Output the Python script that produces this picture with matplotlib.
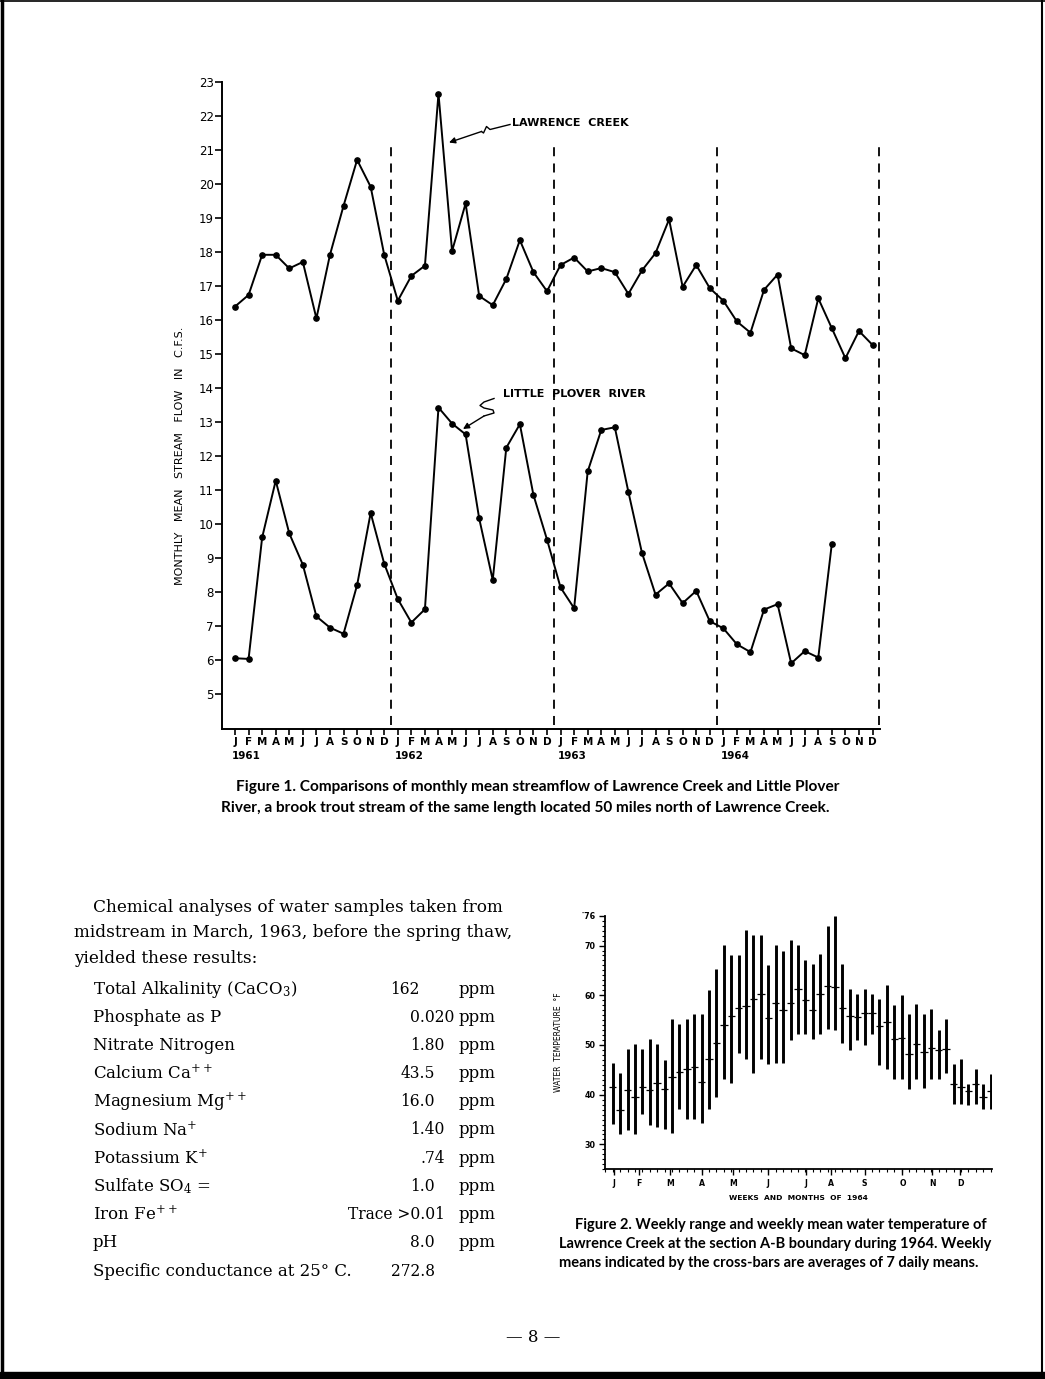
import matplotlib
matplotlib.use('Agg')
import matplotlib.pyplot as plt
import numpy as np
from matplotlib.patches import Rectangle, FancyArrowPatch
from matplotlib.lines import Line2D

# ---------------- data ----------------
years = ['1961', '1962', '1963', '1964']
month_letters = ['J', 'F', 'M', 'A', 'M', 'J', 'J', 'A', 'S', 'O', 'N', 'D']

lawrence_cfs = [16.40, 16.74, 17.92, 17.92, 17.52, 17.71, 16.05, 17.92, 19.36, 20.71, 19.92, 17.92,
                16.57, 17.30, 17.60, 22.66, 18.03, 19.43, 16.71, 16.44, 17.21, 18.35, 17.41, 16.85,
                17.62, 17.84, 17.43, 17.53, 17.41, 16.77, 17.46, 17.97, 18.96, 16.98, 17.62, 16.94,
                16.57, 15.96, 15.63, 16.89, 17.34, 15.17, 14.97, 16.64, 15.76, 14.88, 15.68, 15.27]
plover_cfs = [6.06, 6.04, 9.61, 11.28, 9.73, 8.81, 7.29, 6.96, 6.78, 8.21, 10.33, 8.84,
              7.80, 7.11, 7.50, 13.43, 12.96, 12.64, 10.17, 8.36, 12.25, 12.94, 10.86, 9.55,
              8.14, 7.53, 11.55, 12.77, 12.85, 10.95, 9.16, 7.93, 8.26, 7.68, 8.04, 7.15,
              6.94, 6.47, 6.24, 7.49, 7.65, 5.91, 6.27, 6.08, 9.43]
flow_yticks = list(range(5, 24))

week_high = [46.4, 44.3, 49.2, 50.2, 49.2, 51.3, 50.1, 47.0, 55.2, 54.2, 55.2, 56.2, 56.3,
             61.1, 65.2, 70.2, 68.1, 68.1, 73.1, 72.1, 72.2, 66.0, 70.1, 69.0, 71.1, 70.1,
             67.1, 66.2, 68.2, 74.0, 76.0, 66.2, 61.2, 60.2, 61.2, 60.2, 59.2, 62.1, 58.0,
             60.0, 56.2, 58.2, 56.2, 57.2, 53.1, 55.2, 46.2, 47.2, 42.1, 45.2, 42.2, 44.2]
week_low = [34.2, 32.0, 33.0, 32.0, 36.2, 33.9, 33.6, 33.2, 32.2, 37.2, 35.2, 35.1, 34.4,
            37.1, 39.5, 43.1, 42.3, 48.3, 47.1, 44.3, 47.2, 46.2, 46.4, 46.4, 51.1, 52.3,
            52.3, 51.3, 52.2, 53.2, 53.1, 50.3, 49.0, 51.1, 50.0, 52.2, 46.0, 45.2, 43.2,
            43.1, 41.1, 43.1, 41.4, 43.1, 43.1, 44.4, 38.2, 38.2, 38.0, 38.2, 37.1, 37.1]
week_mean = [41.5, 37.0, 40.9, 39.6, 41.6, 40.9, 42.4, 41.1, 43.6, 44.6, 45.2, 45.6, 42.6,
             47.2, 50.3, 54.1, 55.8, 57.5, 57.8, 59.2, 60.2, 55.5, 58.5, 57.0, 58.5, 61.2,
             59.0, 57.0, 60.2, 61.9, 61.7, 57.5, 55.8, 55.7, 56.4, 56.4, 53.9, 54.7, 51.2,
             51.5, 48.2, 50.1, 48.6, 49.3, 49.0, 49.2, 42.1, 41.6, 40.8, 42.2, 39.6, 40.8]
month_tick_weeks = [0.2, 3.5, 7.8, 12.1, 16.3, 20.9, 26.1, 29.5, 34.0, 39.1, 43.1, 46.9]
temp_yticks = [30, 40, 50, 60, 70, 76]
temp_ylabels = ['30', '40', '50', '60', '70', '\u02d976']

chem_names = ['Total Alkalinity (CaCO$_3$)', 'Phosphate as P', 'Nitrate Nitrogen',
              'Calcium Ca$^{++}$', 'Magnesium Mg$^{++}$', 'Sodium Na$^{+}$',
              'Potassium K$^{+}$', 'Sulfate SO$_4$ =', 'Iron Fe$^{++}$', 'pH',
              'Specific conductance at 25\u00b0 C.']
chem_values = ['162', '0.020', '1.80', '43.5', '16.0', '1.40', '.74', '1.0',
               'Trace >0.01', '8.0', '272.8']
chem_units = ['ppm'] * 10 + ['']

# ---------------- figure ----------------
W, H = 1045, 1379
plt.rcParams['mathtext.fontset'] = 'dejavuserif'
fig = plt.figure(figsize=(W / 100, H / 100), dpi=100)
fig.patch.set_facecolor('white')
renderer = fig.canvas.get_renderer()


def fx(x):
    return x / W


def fy(y):
    return 1 - y / H


def P(x, y):
    return (fx(x), fy(y))


LET = 'DejaVu Sans'
CAP = 'Lato'
SER = 'DejaVu Serif'

# ---------------- Figure 1 ----------------
ax1 = fig.add_axes([fx(222), fy(729), (880 - 222) / W, (729 - 82) / H])
months = np.arange(len(lawrence_cfs))
ax1.plot(months, lawrence_cfs, color='k', lw=1.4, marker='o', ms=3.8)
ax1.plot(np.arange(len(plover_cfs)), plover_cfs, color='k', lw=1.4, marker='o', ms=3.8)
for k in range(len(years)):
    ax1.vlines(12 * k + 11.5, 4.1, 21.3, colors='k', lw=1.3, linestyles=(0, (5, 4)))
ax1.set_xlim(-0.96, 47.55)
ax1.set_ylim(3.98, 23)
for s in ['top', 'right']:
    ax1.spines[s].set_visible(False)
for s in ['left', 'bottom']:
    ax1.spines[s].set_linewidth(1.4)
ax1.set_yticks(flow_yticks)
ax1.set_yticklabels([str(v) for v in flow_yticks], fontsize=8.5, family=LET)
ax1.set_xticks(months)
ax1.set_xticklabels(month_letters * len(years), fontsize=7.5, family=LET, fontweight='bold')
ax1.tick_params(axis='y', direction='out', length=5, width=1.2, pad=1)
ax1.tick_params(axis='x', direction='out', length=4, width=1.2, pad=2)
for k, yr in enumerate(years):
    ax1.text(12 * k - 0.2, -0.034, yr, transform=ax1.get_xaxis_transform(),
             fontsize=7.5, family=LET, fontweight='bold', ha='left', va='top')
ax1.set_ylabel('MONTHLY   MEAN   STREAM   FLOW   IN   C.F.S.', fontsize=8,
               family=LET)
ax1.yaxis.set_label_coords(-0.056, 0.422)

ax1.text(20.45, 21.8, 'LAWRENCE  CREEK', fontsize=8, family=LET, fontweight='bold',
         va='center', ha='left')
ax1.text(19.75, 13.83, 'LITTLE  PLOVER  RIVER', fontsize=8, family=LET, fontweight='bold',
         va='center', ha='left')

# hand-drawn squiggle leaders
sq1 = [(510, 124.5), (490, 129.5), (486.5, 126.5), (483.5, 133), (481.5, 131.5)]
fig.add_artist(Line2D([fx(a) for a, b in sq1], [fy(b) for a, b in sq1], color='k', lw=1.0))
fig.add_artist(FancyArrowPatch(P(481.5, 131.5), P(449, 142.5), transform=fig.transFigure,
                               arrowstyle='-|>', mutation_scale=9, color='k', lw=1.0,
                               shrinkA=0, shrinkB=0))
sq2 = [(494, 398.5), (484, 402), (480, 405.5), (484, 408), (493, 410), (494, 413), (484, 416)]
fig.add_artist(Line2D([fx(a) for a, b in sq2], [fy(b) for a, b in sq2], color='k', lw=1.0))
fig.add_artist(FancyArrowPatch(P(484, 416), P(463, 429), transform=fig.transFigure,
                               arrowstyle='-|>', mutation_scale=9, color='k', lw=1.0,
                               shrinkA=0, shrinkB=0))

fig.text(fx(236), fy(787), 'Figure 1. Comparisons of monthly mean streamflow of Lawrence Creek and Little Plover',
         fontsize=11.1, family=CAP, fontweight='bold', ha='left', va='center')
fig.text(fx(221), fy(808), 'River, a brook trout stream of the same length located 50 miles north of Lawrence Creek.',
         fontsize=11.1, family=CAP, fontweight='bold', ha='left', va='center')

# ---------------- Figure 2 ----------------
ax2 = fig.add_axes([fx(605), fy(1169.3), (991.7 - 605) / W, (1169.3 - 915.7) / H])
weeks = np.arange(len(week_high))
ax2.vlines(weeks, week_low, week_high, colors='k', lw=2.1)
ax2.hlines(week_mean, weeks - 0.5, weeks + 0.5, colors='k', lw=0.9)
ax2.set_xlim(-1.04, 51.15)
ax2.set_ylim(25, 76)
for s in ['top', 'right']:
    ax2.spines[s].set_visible(False)
for s in ['left', 'bottom']:
    ax2.spines[s].set_linewidth(1.3)
ax2.set_yticks(temp_yticks)
ax2.set_yticklabels(temp_ylabels, fontsize=5.8, family=LET, fontweight='bold')
ax2.set_yticks(np.arange(25, 77, 1), minor=True)
ax2.set_xticks(month_tick_weeks)
ax2.set_xticklabels(month_letters, fontsize=5.6, family=LET, fontweight='bold')
ax2.set_xticks(np.arange(-1, 52, 1), minor=True)
ax2.tick_params(which='major', direction='out', length=4, width=1.0, pad=3)
ax2.tick_params(which='minor', direction='out', length=2.5, width=0.8)
ax2.set_xlabel('WEEKS  AND  MONTHS  OF  1964', fontsize=5.4, family=LET,
               fontweight='bold', labelpad=5)
ax2.set_ylabel('WATER  TEMPERATURE  \u00b0F', fontsize=5.5, family=LET, labelpad=12)

cap2 = ['Figure 2. Weekly range and weekly mean water temperature of',
        'Lawrence Creek at the section A-B boundary during 1964. Weekly',
        'means indicated by the cross-bars are averages of 7 daily means.']
for i, (line, x) in enumerate(zip(cap2, [575, 559, 559])):
    fig.text(fx(x), fy(1225 + 19 * i), line, fontsize=10.5, family=CAP,
             fontweight='bold', ha='left', va='center')

# ---------------- text block ----------------
intro = ['Chemical analyses of water samples taken from',
         'midstream in March, 1963, before the spring thaw,',
         'yielded these results:']
for i, (line, x) in enumerate(zip(intro, [93, 74, 74])):
    fig.text(fx(x), fy(907 + 25.8 * i), line, fontsize=12.2, family=SER,
             ha='left', va='center')

DEC_X = 420
VFS = 11.2
for i, (nm, val, unit) in enumerate(zip(chem_names, chem_values, chem_units)):
    y = fy(989 + 28.2 * i)
    fig.text(fx(93), y, nm, fontsize=12, family=SER, ha='left', va='center')
    ip = val.split('.', 1)[0]
    t = fig.text(0, 0, ip + '|', fontsize=VFS, family=SER)
    w_ip = t.get_window_extent(renderer).width
    t.remove()
    t = fig.text(0, 0, '|', fontsize=VFS, family=SER)
    w_bar = t.get_window_extent(renderer).width
    t.remove()
    fig.text(fx(DEC_X - (w_ip - w_bar)), y, val, fontsize=VFS, family=SER, ha='left', va='center')
    fig.text(fx(459), y, unit, fontsize=12, family=SER, ha='left', va='center')

fig.text(fx(533), fy(1337), '\u2014 8 \u2014', fontsize=12, family=SER, ha='center', va='center')

# ---------------- page edges ----------------
fig.add_artist(Line2D([fx(1.5), fx(1.5)], [fy(0), fy(1379)], color='k', lw=2.5))
fig.add_artist(Line2D([fx(1041.5), fx(1041.5)], [fy(0), fy(1379)], color='k', lw=1.5))
fig.add_artist(Rectangle((0, 0), 1, 7 / H, transform=fig.transFigure, color='k'))
fig.add_artist(Line2D([fx(0), fx(1045)], [fy(1), fy(1)], color='k', lw=1.2))

fig.savefig('out.png', dpi=100, facecolor='white')
